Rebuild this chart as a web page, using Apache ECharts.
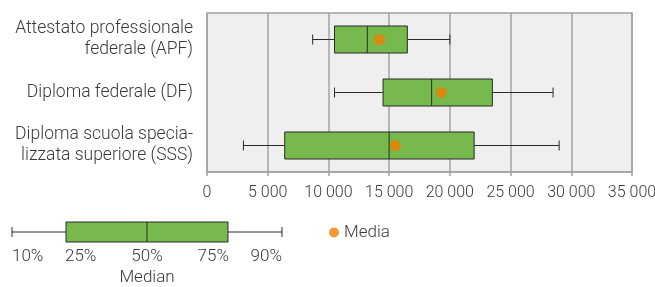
<!DOCTYPE html>
<html>
<head>
<meta charset="utf-8">
<script src="https://cdn.jsdelivr.net/npm/echarts@6/dist/echarts.min.js"></script>
<style>
  html, body { margin: 0; padding: 0; background: #fff; }
  #chart { width: 655px; height: 287px; }
</style>
</head>
<body>
<div id="chart"></div>
<script>
// salary distribution per qualification (CHF)
var categories = ['Attestato professionale\nfederale (APF)', 'Diploma federale (DF)', 'Diploma scuola specia-\nlizzata superiore (SSS)']
var p10 = [8700, 10500, 3000]
var p25 = [10500, 14500, 6400]
var p50 = [13200, 18500, 15000]
var p75 = [16500, 23500, 22000]
var p90 = [20000, 28500, 29000]
var mean = [14200, 19300, 15500]
var xTicks = [0, 5000, 10000, 15000, 20000, 25000, 30000, 35000]

// explanatory key under the chart
var keyValues = [0, 2, 5, 8, 10]
var keyLabels = ['10%', '25%', '50%', '75%', '90%']

var GREEN = '#77b94c'
var ORANGE = '#f07e00'
var TEXT = '#3a3a3a'
var FONT = 'Roboto'

function fmt (v) {
  return String(v).replace(/\B(?=(\d{3})+(?!\d))/g, ' ')
}

function makeBox (ratio) {
  return function (params, api) {
    var cat = api.value(0)
    var lo = api.coord([api.value(1), cat])
    var q1 = api.coord([api.value(2), cat])
    var md = api.coord([api.value(3), cat])
    var q3 = api.coord([api.value(4), cat])
    var hi = api.coord([api.value(5), cat])
    var band = api.size([0, 1])[1]
    var h = band * ratio
    var y = lo[1]
    var cap = 5
    var line = { stroke: '#2b2b2b', lineWidth: 1 }
    return {
      type: 'group',
      children: [
        { type: 'line', shape: { x1: lo[0], y1: y, x2: q1[0], y2: y }, style: line },
        { type: 'line', shape: { x1: q3[0], y1: y, x2: hi[0], y2: y }, style: line },
        { type: 'line', shape: { x1: lo[0], y1: y - cap, x2: lo[0], y2: y + cap }, style: line },
        { type: 'line', shape: { x1: hi[0], y1: y - cap, x2: hi[0], y2: y + cap }, style: line },
        { type: 'rect', shape: { x: q1[0], y: y - h / 2, width: q3[0] - q1[0], height: h }, style: { fill: GREEN, stroke: '#2b2b2b', lineWidth: 1 } },
        { type: 'line', shape: { x1: md[0], y1: y - h / 2, x2: md[0], y2: y + h / 2 }, style: line }
      ]
    }
  }
}

var boxData = categories.map(function (c, i) {
  return [i, p10[i], p25[i], p50[i], p75[i], p90[i]]
})
var meanData = categories.map(function (c, i) {
  return [mean[i], i]
})

var keyX = [12, 65, 147, 229, 282]
var keyAlign = ['left', 'left', 'center', 'right', 'right']
var graphics = keyLabels.map(function (t, i) {
  return {
    type: 'text',
    x: keyX[i],
    y: 257,
    style: { text: t, fill: TEXT, font: '300 17px ' + FONT, align: keyAlign[i], verticalAlign: 'middle' }
  }
})
graphics.push({
  type: 'text',
  x: 147,
  y: 278,
  style: { text: 'Median', fill: TEXT, font: '300 17px ' + FONT, align: 'center', verticalAlign: 'middle' }
})

var chart = echarts.init(document.getElementById('chart'))
chart.setOption({
  animation: false,
  textStyle: { fontFamily: FONT },
  grid: [{
    left: 207,
    right: 23,
    top: 13,
    height: 159,
    outerBoundsMode: 'none',
    containLabel: false,
    show: true,
    backgroundColor: '#efefef',
    borderColor: '#a3a3a3',
    borderWidth: 1.5
  }, {
    left: 12,
    width: 270,
    top: 222,
    height: 20,
    outerBoundsMode: 'none'
  }],
  xAxis: [{
    type: 'value',
    gridIndex: 0,
    min: 0,
    max: 35000,
    interval: 5000,
    axisLine: { show: true, lineStyle: { color: '#a3a3a3', width: 1.5 } },
    axisTick: { show: true, length: 4, lineStyle: { color: '#a3a3a3', width: 1.5 } },
    splitLine: { show: true, lineStyle: { color: '#a3a3a3', width: 1.5 } },
    axisLabel: {
      color: TEXT,
      fontSize: 16,
      fontWeight: 300,
      margin: 13,
      formatter: function (v) { return xTicks.indexOf(v) >= 0 ? fmt(v) : '' }
    }
  }, {
    type: 'value',
    gridIndex: 1,
    min: 0,
    max: 10,
    show: false
  }],
  yAxis: [{
    type: 'category',
    gridIndex: 0,
    data: categories,
    inverse: true,
    axisLine: { show: false },
    axisTick: { show: false },
    axisLabel: {
      color: TEXT,
      fontSize: 17.5,
      fontWeight: 300,
      lineHeight: 21,
      margin: 14,
      align: 'right'
    }
  }, {
    type: 'category',
    gridIndex: 1,
    data: ['key'],
    show: false
  }],
  legend: {
    left: 324,
    top: 219,
    icon: 'circle',
    itemWidth: 10,
    itemHeight: 10,
    itemGap: 6,
    textStyle: { color: TEXT, fontSize: 17, fontWeight: 300, fontFamily: FONT },
    data: ['Media']
  },
  graphic: graphics,
  series: [{
    type: 'custom',
    name: 'Box',
    xAxisIndex: 0,
    yAxisIndex: 0,
    renderItem: makeBox(0.51),
    encode: { x: [1, 2, 3, 4, 5], y: 0 },
    data: boxData
  }, {
    type: 'scatter',
    name: 'Media',
    xAxisIndex: 0,
    yAxisIndex: 0,
    symbolSize: 11,
    itemStyle: { color: ORANGE },
    data: meanData,
    z: 5
  }, {
    type: 'custom',
    name: 'Key',
    xAxisIndex: 1,
    yAxisIndex: 1,
    renderItem: makeBox(1),
    encode: { x: [1, 2, 3, 4, 5], y: 0 },
    data: [[0].concat(keyValues)]
  }]
})
</script>
</body>
</html>
